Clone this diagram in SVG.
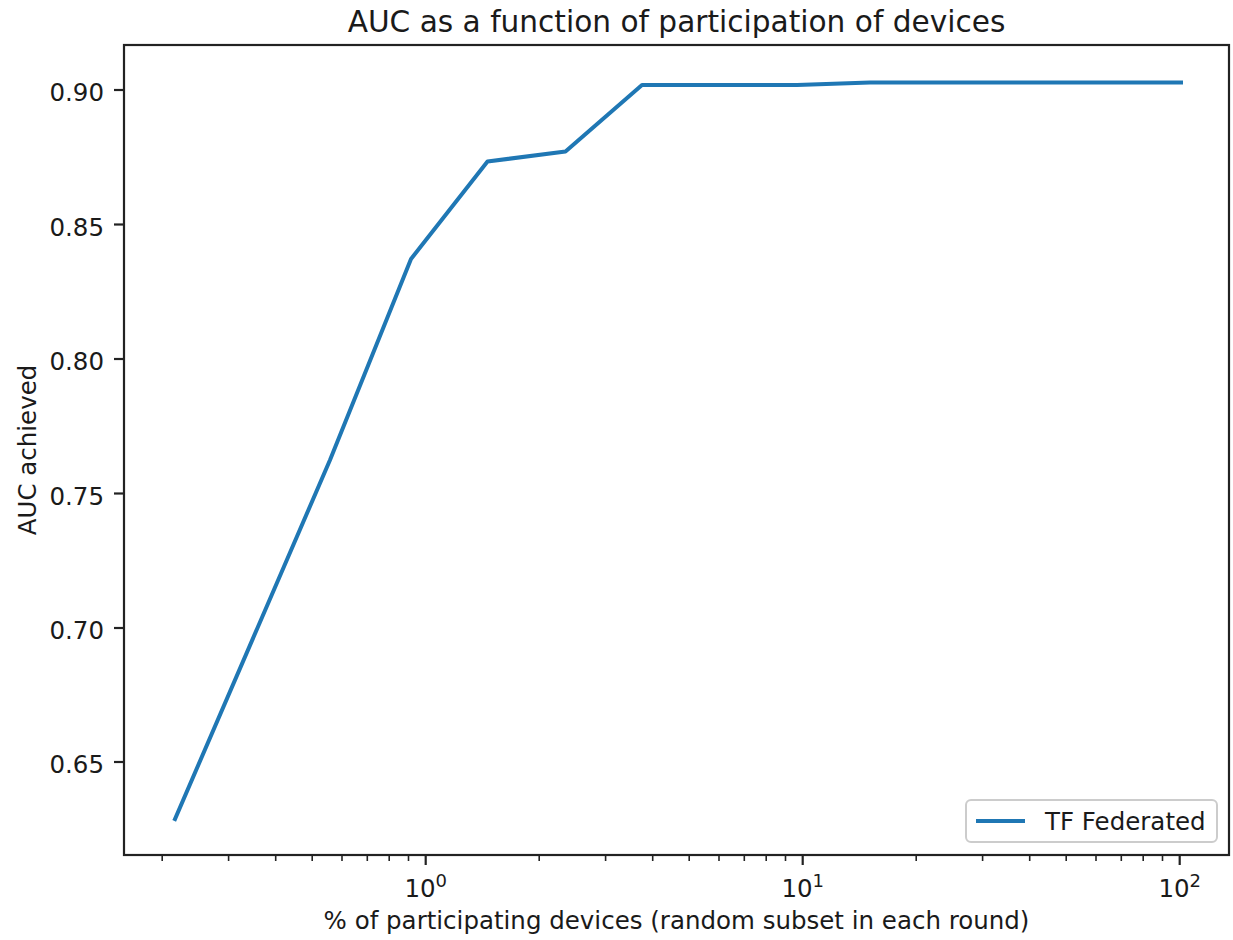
<svg xmlns="http://www.w3.org/2000/svg" width="1233" height="940" viewBox="0 0 1233 940">
  <style>
    text { font-family: "DejaVu Sans", "Liberation Sans", sans-serif; fill: #1a1a1a; }
    .tick { font-size: 24.5px; }
    .sup { font-size: 18px; }
    .major { stroke: #222; stroke-width: 2.2; }
    .minor { stroke: #222; stroke-width: 1.6; }
    .frame { fill: none; stroke: #222; stroke-width: 2.2; }
    .series { fill: none; stroke: #1f77b4; stroke-width: 4; stroke-linejoin: round; stroke-linecap: square; }
  </style>
  <rect x="0" y="0" width="1233" height="940" fill="#ffffff"/>

  <!-- title -->
  <text id="title" x="676.5" y="32" text-anchor="middle" font-size="29.6">AUC as a function of participation of devices</text>

  <!-- data series -->
  <g id="series">
    <polyline class="series" points="175,819 330,460 411,259 487.5,161.5 565.5,151.5 642,85 797,85 870,82.5 1181,82.5"/>
  </g>

  <!-- y axis ticks and labels -->
  <g id="y-axis">
    <line class="major" x1="114" y1="90" x2="124" y2="90"/>
    <line class="major" x1="114" y1="224.5" x2="124" y2="224.5"/>
    <line class="major" x1="114" y1="359" x2="124" y2="359"/>
    <line class="major" x1="114" y1="493.5" x2="124" y2="493.5"/>
    <line class="major" x1="114" y1="628" x2="124" y2="628"/>
    <line class="major" x1="114" y1="762" x2="124" y2="762"/>
    <g class="tick" text-anchor="end">
      <text x="104" y="101">0.90</text>
      <text x="104" y="235.5">0.85</text>
      <text x="104" y="370">0.80</text>
      <text x="104" y="504.5">0.75</text>
      <text x="104" y="639">0.70</text>
      <text x="104" y="773">0.65</text>
    </g>
    <text x="36" y="450" text-anchor="middle" font-size="24.5" transform="rotate(-90 36 450)">AUC achieved</text>
  </g>

  <!-- x axis (log scale) ticks and labels -->
  <g id="x-axis">
    <g class="minor">
      <line x1="162.2" y1="855" x2="162.2" y2="861"/>
      <line x1="228.6" y1="855" x2="228.6" y2="861"/>
      <line x1="275.7" y1="855" x2="275.7" y2="861"/>
      <line x1="312.2" y1="855" x2="312.2" y2="861"/>
      <line x1="342" y1="855" x2="342" y2="861"/>
      <line x1="367.3" y1="855" x2="367.3" y2="861"/>
      <line x1="389.2" y1="855" x2="389.2" y2="861"/>
      <line x1="408.5" y1="855" x2="408.5" y2="861"/>
      <line x1="539.2" y1="855" x2="539.2" y2="861"/>
      <line x1="605.6" y1="855" x2="605.6" y2="861"/>
      <line x1="652.7" y1="855" x2="652.7" y2="861"/>
      <line x1="689.2" y1="855" x2="689.2" y2="861"/>
      <line x1="719" y1="855" x2="719" y2="861"/>
      <line x1="744.3" y1="855" x2="744.3" y2="861"/>
      <line x1="766.2" y1="855" x2="766.2" y2="861"/>
      <line x1="785.5" y1="855" x2="785.5" y2="861"/>
      <line x1="916.2" y1="855" x2="916.2" y2="861"/>
      <line x1="982.6" y1="855" x2="982.6" y2="861"/>
      <line x1="1029.7" y1="855" x2="1029.7" y2="861"/>
      <line x1="1066.2" y1="855" x2="1066.2" y2="861"/>
      <line x1="1096" y1="855" x2="1096" y2="861"/>
      <line x1="1121.3" y1="855" x2="1121.3" y2="861"/>
      <line x1="1143.2" y1="855" x2="1143.2" y2="861"/>
      <line x1="1162.5" y1="855" x2="1162.5" y2="861"/>
    </g>
    <line class="major" x1="425.7" y1="855" x2="425.7" y2="865"/>
    <line class="major" x1="802.7" y1="855" x2="802.7" y2="865"/>
    <line class="major" x1="1179.7" y1="855" x2="1179.7" y2="865"/>
    <g class="tick" text-anchor="middle">
      <text x="425.7" y="897">10<tspan class="sup" dy="-10">0</tspan></text>
      <text x="802.7" y="897">10<tspan class="sup" dy="-10">1</tspan></text>
      <text x="1179.7" y="897">10<tspan class="sup" dy="-10">2</tspan></text>
    </g>
    <text x="676.5" y="929" text-anchor="middle" font-size="24.5">% of participating devices (random subset in each round)</text>
  </g>

  <!-- axes frame -->
  <rect id="frame" class="frame" x="124" y="45" width="1105" height="810"/>

  <!-- legend -->
  <g id="legend">
    <rect x="966" y="800" width="251" height="42" rx="5" ry="5" fill="#ffffff" fill-opacity="0.8" stroke="#cccccc" stroke-width="2"/>
    <line x1="976" y1="821" x2="1025" y2="821" stroke="#1f77b4" stroke-width="4"/>
    <text x="1045" y="830" font-size="24.5">TF Federated</text>
  </g>
</svg>
